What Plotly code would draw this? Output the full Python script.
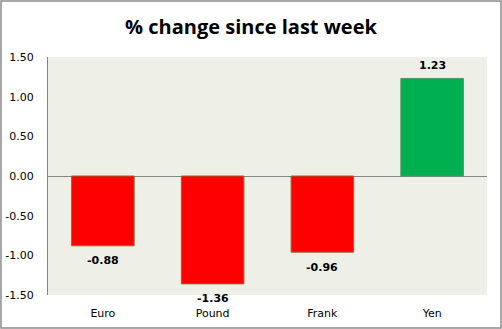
import plotly.graph_objects as go

categories = ["Euro", "Pound", "Frank", "Yen"]
values = [-0.88, -1.36, -0.96, 1.23]
labels = ["-0.88", "-1.36", "-0.96", "1.23"]
tick_vals = [-1.5, -1.0, -0.5, 0.0, 0.5, 1.0, 1.5]
tick_text = ["-1.50", "-1.00", "-0.50", "0.00", "0.50", "1.00", "1.50"]

fill = ["#FF0000" if v < 0 else "#00B050" for v in values]
edge = ["#8C6A3A" if v < 0 else "#4E9A5E" for v in values]

W, H = 502, 329
ml, mr, mt, mb = 48, 15, 57, 34
pw, ph = W - ml - mr, H - mt - mb

fig = go.Figure(go.Bar(
    x=categories, y=values,
    marker=dict(color=fill, line=dict(color=edge, width=1)),
    width=0.57, cliponaxis=False,
))

annotations = [
    dict(x=c, y=v, xref="x", yref="y", text="<b>%s</b>" % t, showarrow=False,
         yshift=(13 if v >= 0 else -15), yanchor="middle",
         font=dict(family="DejaVu Sans", size=11, color="black"))
    for c, v, t in zip(categories, values, labels)
]

fig.update_layout(
    width=W, height=H, margin=dict(l=ml, r=mr, t=mt, b=mb, autoexpand=False),
    paper_bgcolor="white", plot_bgcolor="#EEF0E8",
    title=dict(text="<b>% change since last week</b>", x=0.5, xanchor="center",
               y=1 - 27 / H, yanchor="middle",
               font=dict(family="Open Sans", size=20, color="black")),
    showlegend=False,
    annotations=annotations,
    xaxis=dict(showgrid=False, showline=False, ticks="", zeroline=False,
               ticklabelstandoff=10, automargin=False,
               tickfont=dict(family="DejaVu Sans", size=11, color="black")),
    yaxis=dict(range=[-1.5, 1.5], tickvals=tick_vals, ticktext=tick_text,
               showgrid=False, zeroline=True, zerolinecolor="#868686", zerolinewidth=1,
               showline=True, linecolor="#868686", linewidth=1, ticks="",
               ticklabelstandoff=11, automargin=False,
               tickfont=dict(family="DejaVu Sans", size=11, color="black")),
    shapes=[dict(type="rect", xref="paper", yref="paper",
                 x0=-(ml - 1) / pw, x1=1 + (mr - 1) / pw,
                 y0=-(mb - 1) / ph, y1=1 + (mt - 1) / ph,
                 line=dict(color="#8C8C8C", width=1.5), layer="above")],
)

fig.write_html("out.html")
